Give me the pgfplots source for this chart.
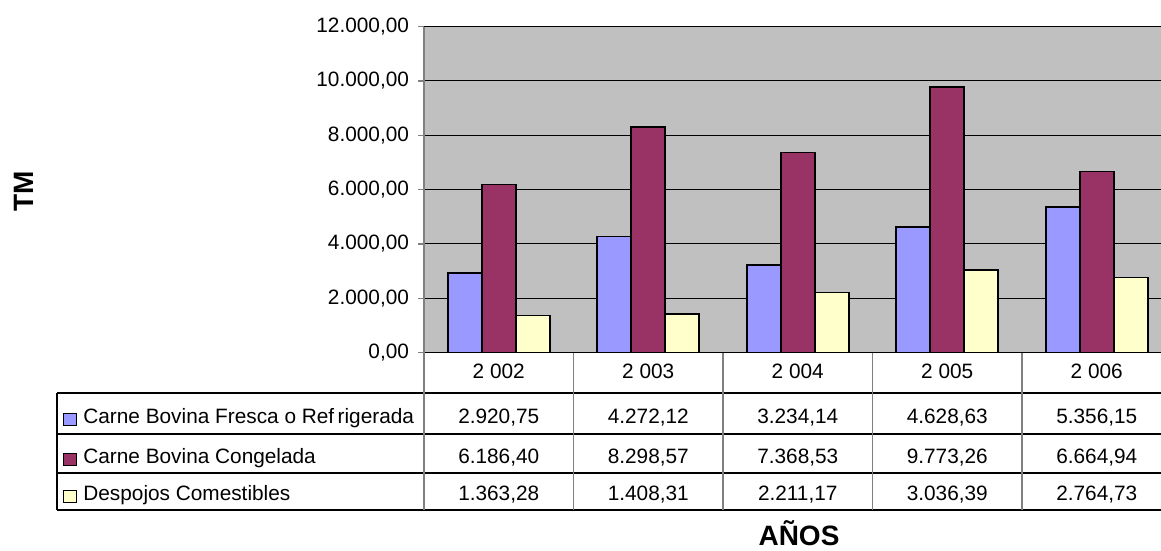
\documentclass[border=0pt]{standalone}
\usepackage{pgfplots}
\pgfplotsset{compat=1.18}
\usepackage{pgfplotstable}
\usepackage{fontspec}
\setmainfont{Liberation Sans}

\definecolor{fresca}{HTML}{9999FF}
\definecolor{congelada}{HTML}{993366}
\definecolor{despojos}{HTML}{FFFFCC}
\definecolor{fondo}{HTML}{C0C0C0}
\definecolor{eje}{HTML}{808080}

\pgfkeys{/pgf/number format/.cd, fixed, fixed zerofill, precision=2, use comma, assume math mode=true}

% toneladas metricas por anio
\pgfplotstableread{
x fresca  congelada despojos
0 2920.75 6186.40   1363.28
1 4272.12 8298.57   1408.31
2 3234.14 7368.53   2211.17
3 4628.63 9773.26   3036.39
4 5356.15 6664.94   2764.73
}\datos

\begin{document}
\begin{tikzpicture}[font=\fontsize{10.4}{12}\selectfont]
\path[use as bounding box] (0,0) rectangle (580.5pt,-275.5pt);
\begin{axis}[
  at={(212pt,-176.25pt)}, anchor=south west,
  scale only axis, width=373.75pt, height=162.9pt,
  xmin=-0.5, xmax=4.5, ymin=0, ymax=12000,
  ytick distance=2000, scaled y ticks=false,
  xtick={0,...,4}, xticklabels={2 002,2 003,2 004,2 005,2 006},
  x tick style={draw=none},
  xticklabel style={anchor=base, yshift=-10pt},
  yticklabel style={xshift=-1pt},
  axis x line*=bottom, axis y line*=left,
  x axis line style={black, line width=0.6pt},
  y axis line style={eje, line width=1pt},
  y tick style={eje, line width=0.6pt},
  tick align=outside, major tick length=3pt,
  axis background/.style={fill=fondo},
  ymajorgrids, major grid style={black, line width=0.5pt},
  ybar=0pt, bar width=17pt,
  every axis plot/.append style={draw=black, line width=0.9pt},
  clip=false,
]
\addplot[fill=fresca] table[x=x, y=fresca] {\datos};
\addplot[fill=congelada] table[x=x, y=congelada] {\datos};
\addplot[fill=despojos] table[x=x, y=despojos] {\datos};
\end{axis}

\begin{scope}[x=0.5pt, y=-0.5pt]
  % tabla de datos
  \foreach \yy in {393,434,473,510}
    \draw[black, line width=0.6pt] (57,\yy) -- (1161,\yy);
  \draw[black, line width=0.6pt] (57,393) -- (57,510);
  \draw[eje, line width=1pt] (424,352.5) -- (424,510);
  \foreach \k in {1,...,4}
    \draw[eje, line width=0.6pt] ({424+149.5*\k},352.5) -- ({424+149.5*\k},510);

  \foreach \col/\base/\colr/\nombre in {
      fresca/423/fresca/Carne Bovina Fresca o Ref\,rigerada,
      congelada/463/congelada/Carne Bovina Congelada,
      despojos/500/despojos/Despojos Comestibles} {
    \draw[black, line width=0.5pt, fill=\colr] (63,\base-10) rectangle (76,\base+2);
    \node[anchor=base west, inner sep=0pt] at (83,\base) {\nombre};
    \foreach \c in {0,...,4} {
      \pgfplotstablegetelem{\c}{\col}\of\datos
      \node[anchor=base, inner sep=0pt] at ({424+149.5*\c+74.75},\base)
        {\pgfmathprintnumber{\pgfplotsretval}};
    }
  }

  \node[font=\fontsize{14}{16}\selectfont\bfseries, rotate=90] at (24,191) {TM};
  \node[font=\fontsize{14}{16}\selectfont\bfseries, anchor=base, inner sep=0pt] at (799,545.5) {AÑOS};
\end{scope}
\end{tikzpicture}
\end{document}
